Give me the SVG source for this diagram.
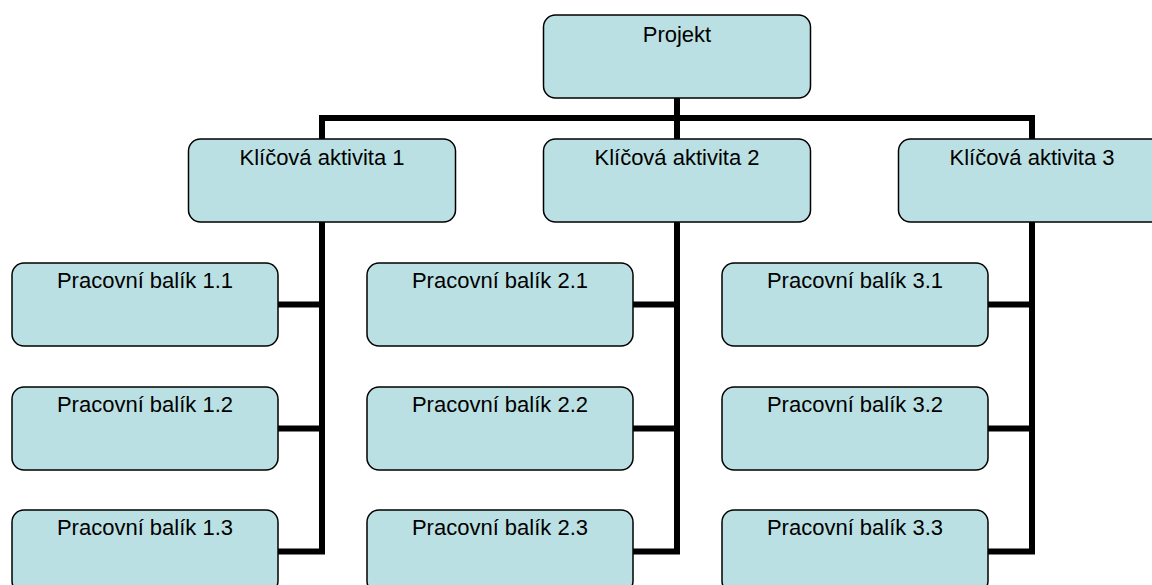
<svg xmlns="http://www.w3.org/2000/svg" width="1152" height="585" viewBox="0 0 1152 585">
<style>
.box{fill:#BBE0E3;stroke:#000;stroke-width:1.5}
.lbl{font-family:"Liberation Sans",Arial,sans-serif;font-size:22px;fill:#000;text-anchor:middle}
.con{fill:none;stroke:#000;stroke-width:6;stroke-linejoin:miter;stroke-linecap:butt}
</style>
<rect width="1152" height="585" fill="#fff"/>
<g id="connectors">
<path class="con" d="M677 98 V118"/>
<path class="con" d="M322 139 V118 H1032 V139"/>
<path class="con" d="M677 118 V139"/>
<path class="con" d="M278 551.5 H322 V222"/>
<path class="con" d="M278 304.5 H322"/>
<path class="con" d="M278 428.5 H322"/>
<path class="con" d="M633 551.5 H677 V222"/>
<path class="con" d="M633 304.5 H677"/>
<path class="con" d="M633 428.5 H677"/>
<path class="con" d="M988 551.5 H1032 V222"/>
<path class="con" d="M988 304.5 H1032"/>
<path class="con" d="M988 428.5 H1032"/>
</g>
<g id="projekt"><rect class="box" x="543.5" y="15" width="267" height="83" rx="12"/><text class="lbl" x="677" y="42">Projekt</text></g>
<g id="ka1"><rect class="box" x="188.5" y="139" width="267" height="83" rx="12"/><text class="lbl" x="322" y="165">Klíčová aktivita 1</text></g>
<g id="ka2"><rect class="box" x="543.5" y="139" width="267" height="83" rx="12"/><text class="lbl" x="677" y="165">Klíčová aktivita 2</text></g>
<g id="ka3"><rect class="box" x="898.5" y="139" width="267" height="83" rx="12"/><text class="lbl" x="1032" y="165">Klíčová aktivita 3</text></g>
<g id="pb11"><rect class="box" x="12" y="263" width="266" height="83" rx="12"/><text class="lbl" x="145" y="288">Pracovní balík 1.1</text></g>
<g id="pb12"><rect class="box" x="12" y="387" width="266" height="83" rx="12"/><text class="lbl" x="145" y="412">Pracovní balík 1.2</text></g>
<g id="pb13"><rect class="box" x="12" y="510" width="266" height="83" rx="12"/><text class="lbl" x="145" y="535">Pracovní balík 1.3</text></g>
<g id="pb21"><rect class="box" x="367" y="263" width="266" height="83" rx="12"/><text class="lbl" x="500" y="288">Pracovní balík 2.1</text></g>
<g id="pb22"><rect class="box" x="367" y="387" width="266" height="83" rx="12"/><text class="lbl" x="500" y="412">Pracovní balík 2.2</text></g>
<g id="pb23"><rect class="box" x="367" y="510" width="266" height="83" rx="12"/><text class="lbl" x="500" y="535">Pracovní balík 2.3</text></g>
<g id="pb31"><rect class="box" x="722" y="263" width="266" height="83" rx="12"/><text class="lbl" x="855" y="288">Pracovní balík 3.1</text></g>
<g id="pb32"><rect class="box" x="722" y="387" width="266" height="83" rx="12"/><text class="lbl" x="855" y="412">Pracovní balík 3.2</text></g>
<g id="pb33"><rect class="box" x="722" y="510" width="266" height="83" rx="12"/><text class="lbl" x="855" y="535">Pracovní balík 3.3</text></g>
</svg>
